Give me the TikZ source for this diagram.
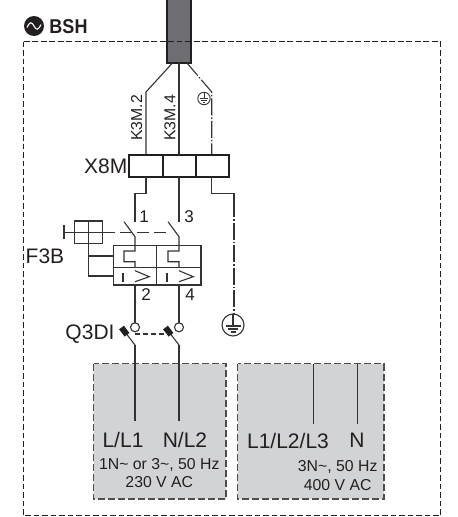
\documentclass[tikz,border=0pt]{standalone}
\usepackage{fontspec}
\setmainfont{Liberation Sans}
\definecolor{wire}{HTML}{333335}
\definecolor{cable}{HTML}{6D6E71}
\definecolor{panel}{HTML}{D1D3D4}
\definecolor{ink}{HTML}{231F20}
\definecolor{paneledge}{HTML}{4D4D4F}
\tikzset{
  thinline/.style={draw=wire,line width=1.1pt},
  boxline/.style={draw=ink,line width=1.7pt},
  dashdot/.style={draw=wire,line width=1.1pt,dash pattern=on 17pt off 2pt on 1.5pt off 2pt},
  frame/.style={draw=ink,line width=1.1pt,dash pattern=on 5.5pt off 3pt},
  panelbox/.style={draw=paneledge,line width=1.3pt,dash pattern=on 7pt off 3pt,fill=panel},
  big/.style={font=\fontsize{21}{23}\selectfont,text=ink,inner sep=0pt},
  mid/.style={font=\fontsize{21}{23}\selectfont,text=ink,inner sep=0pt},
  small/.style={font=\fontsize{15.8}{18}\selectfont,text=ink,inner sep=0pt},
  digit/.style={font=\fontsize{17}{18}\selectfont,text=ink,inner sep=0pt},
}
\begin{document}
\begin{tikzpicture}[x=1pt,y=-1pt]
\useasboundingbox (0,0) rectangle (458,517);
% outer frame
\draw[frame] (23.5,41.5) rectangle (440.7,515.7);
% panels
\draw[panelbox] (93.5,363.7) rectangle (226,499);
\draw[panelbox] (237.7,363.7) rectangle (384,499);
% cable
\draw[boxline,fill=cable] (167,-2) -- (167,62.7) -- (191,62.7) -- (191,-2);
\draw[frame] (23.5,41.5) -- (440.7,41.5);
% supply wires
\draw[thinline] (172.7,62.7) -- (146,92) -- (146,155);
\draw[thinline] (179,62.7) -- (179,155);
\draw[dashdot] (186.7,62.7) -- (211.7,92) -- (211.7,155);
\begin{scope}[shift={(204,98.5)}]
  \draw[draw=wire,line width=.9pt] (0,0) circle (6.2);
  \draw[draw=wire,line width=.9pt] (0,-6.2) -- (0,0);
  \draw[draw=wire,line width=.9pt] (-4.2,0) -- (4.2,0);
  \draw[draw=wire,line width=.9pt] (-2.7,1.8) -- (2.7,1.8);
  \draw[draw=wire,line width=.9pt] (-1.2,3.6) -- (1.2,3.6);
\end{scope}
% X8M
\draw[boxline] (129,155) rectangle (228.7,176.7);
\draw[boxline] (162.7,155) -- (162.7,176.7) (195.7,155) -- (195.7,176.7);
% wires beneath X8M
\draw[thinline] (146,176.7) -- (146,193.3) -- (135,193.3) -- (135,221.7);
\draw[thinline] (179,176.7) -- (179,221.7);
\draw[thinline] (211.7,176.7) -- (211.7,193.3) -- (234,193.3) -- (234,200);
\draw[dashdot] (234,200) -- (234,314);
\begin{scope}[shift={(233,325)}]
  \draw[thinline] (0,0) circle (11);
  \draw[thinline] (0,-11) -- (0,1);
  \draw[thinline] (-7.5,1) -- (7.5,1);
  \draw[thinline] (-5,4) -- (5,4);
  \draw[thinline] (-2.5,7) -- (2.5,7);
\end{scope}
% F3B switch contacts
\foreach \d in {0,44}{
  \begin{scope}[xshift=\d pt]
    \draw[thinline] (124,221.7) -- (135,236.7) -- (135,251) -- (124,251) -- (124,261.7) -- (135,261.7) -- (135,267.3);
    \draw[thinline] (123,272.7) -- (123,281.7);
    \draw[thinline] (135,270.7) -- (149.3,276.7) -- (135,281.7);
    \draw[thinline] (135,285) -- (135,322.8);
    \draw[thinline] (135,327.3) circle (4.5);
    \draw[thinline] (124,330.7) -- (135,345);
    \draw[ink,line width=6pt] (121.5,327.5) -- (127,334.8);
  \end{scope}
}
\draw[thinline] (135,345) -- (135,420.7);
\draw[thinline] (179,345) -- (179,420.7);
\draw[thinline,dash pattern=on 5pt off 3pt] (135,334) -- (168,334);
\draw[thinline,dash pattern=on 12pt off 5pt] (102.7,232.3) -- (168,232.3);
% F3B box
\draw[thinline,line width=1.2pt] (113.3,245.3) rectangle (201,285);
\draw[thinline,line width=1.2pt] (156.7,245.3) -- (156.7,285) (113.3,267.3) -- (201,267.3);
% handle
\draw[thinline] (64,225) -- (64,239);
\draw[thinline] (64,232.3) -- (102.7,232.3);
\draw[thinline] (74.3,221) rectangle (102.3,243.3);
\draw[thinline] (88.3,221) -- (88.3,276) -- (113.3,276);
\draw[thinline] (88.3,256) -- (113.3,256);
% right panel wires
\draw[thinline] (313.3,363.7) -- (313.3,424);
\draw[thinline] (357.3,363.7) -- (357.3,424);
% BSH mark
\fill[ink] (34,26) circle (10);
\draw[white,line width=1.1pt] (27,27.5) .. controls (30,21) and (32,22) .. (34,26) .. controls (36,30) and (38,31) .. (41,24.5);
\node[font=\fontsize{20}{22}\selectfont\bfseries,text=ink,inner sep=0pt,xscale=.9] (bsh) at (68.5,26.5) {BSH};
% labels
\node[small,rotate=90] (k2) at (136.7,118) {K3M.2};
\node[small,rotate=90] (k4) at (170,118) {K3M.4};
\node[mid,anchor=east] (x8m) at (127.5,166) {X8M};
\node[mid] (f3b) at (45,256) {F3B};
\node[mid] (q3di) at (90,334) {Q3DI};
\node[digit] (n1) at (144,216.7) {1};
\node[digit] (n3) at (189,216.7) {3};
\node[digit] (n2) at (146,295) {2};
\node[digit] (n4) at (190,295) {4};
\node[big] (ll1) at (123,439.5) {L/L1};
\node[big] (nl2) at (185,439.5) {N/L2};
\node[big] (l123) at (288,440.5) {L1/L2/L3};
\node[big] (nn) at (357,440.5) {N};
\node[small] (t1) at (159.3,465) {1N\textasciitilde{} or 3\textasciitilde{}, 50 Hz};
\node[small] (t2) at (159.3,482) {230 V AC};
\node[small] (t3) at (337.7,467) {3N\textasciitilde{}, 50 Hz};
\node[small] (t4) at (337.7,485) {400 V AC};
\end{tikzpicture}
\end{document}
